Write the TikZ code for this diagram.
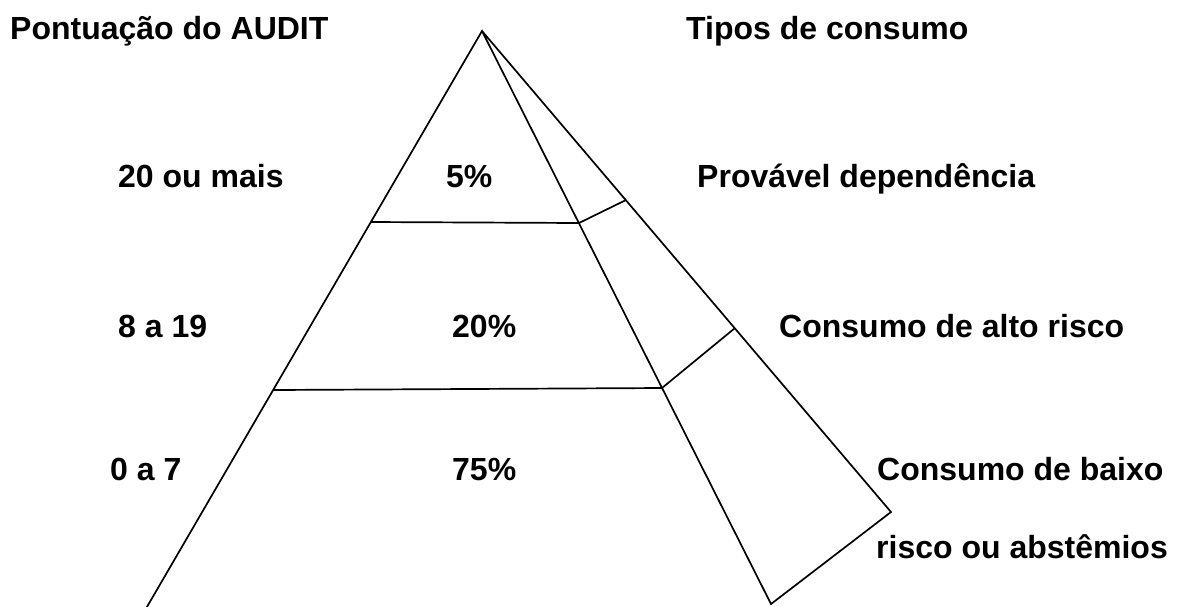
\documentclass[tikz,border=0pt]{standalone}
\usepackage{fontspec}
\setmainfont{Liberation Sans}
\begin{document}
\begin{tikzpicture}[x=1pt,y=-1pt,
  lbl/.style={anchor=base west,inner sep=0pt,font=\fontsize{32}{36}\selectfont\bfseries},
  edge/.style={line width=1.7pt,line join=miter}]
\useasboundingbox (0,0) rectangle (1177,606);
\clip (0,0) rectangle (1177,606);
% key points
\coordinate (A) at (482,31);
\coordinate (BL) at (144,612);
\coordinate (M) at (771,604);
\coordinate (R) at (891,512);
\coordinate (P1) at (579,223);
\coordinate (Q1) at (626,200);
\coordinate (P2) at (662,388);
\coordinate (Q2) at (735,328);
\coordinate (L1) at (371,222);
\coordinate (L2) at (274,390);
% pyramid
\draw[edge] (BL) -- (A) -- (M) -- (R) -- (A);
\draw[edge] (L1) -- (P1) -- (Q1);
\draw[edge] (L2) -- (P2) -- (Q2);
% texts
\node[lbl] (h1) at (10,39) {Pontuação do AUDIT};
\node[lbl] (h2) at (686,39) {Tipos de consumo};
\node[lbl] (a1) at (118,187) {20 ou mais};
\node[lbl] (p1) at (446,187) {5\%};
\node[lbl] (t1) at (697,187) {Provável dependência};
\node[lbl] (a2) at (118,337) {8 a 19};
\node[lbl] (p2) at (452,337) {20\%};
\node[lbl] (t2) at (779,337) {Consumo de alto risco};
\node[lbl] (a3) at (110,480) {0 a 7};
\node[lbl] (p3) at (452,480) {75\%};
\node[lbl] (t3) at (877,480) {Consumo de baixo};
\node[lbl] (t4) at (876,558) {risco ou abstêmios};
\end{tikzpicture}
\end{document}
